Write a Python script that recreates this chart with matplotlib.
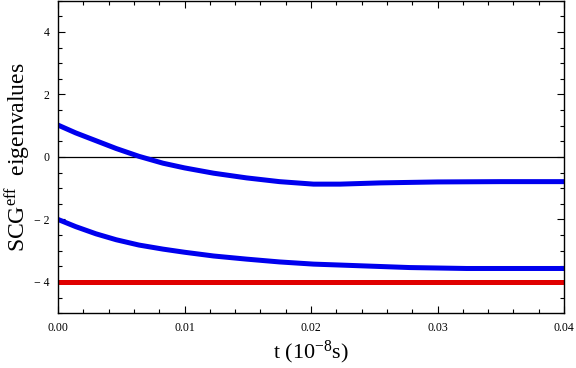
import numpy as np
import matplotlib.pyplot as plt
from matplotlib.ticker import MultipleLocator, FuncFormatter

plt.rcParams['font.family'] = ['Liberation Serif', 'DejaVu Serif']
plt.rcParams['mathtext.fontset'] = 'custom'
plt.rcParams['mathtext.rm'] = 'Liberation Serif'
plt.rcParams['mathtext.it'] = 'Liberation Serif:italic'

# upper eigenvalue branch
t_up = [0.0, 0.0014, 0.0030, 0.0046, 0.0064, 0.0083, 0.0100, 0.0123, 0.0149,
        0.0175, 0.0202, 0.0223, 0.0255, 0.0300, 0.0350, 0.0400]
ev_up = [1.02, 0.77, 0.52, 0.27, 0.02, -0.20, -0.35, -0.52, -0.67,
         -0.79, -0.87, -0.87, -0.83, -0.80, -0.79, -0.79]

# lower eigenvalue branch
t_lo = [0.0, 0.0014, 0.0030, 0.0046, 0.0064, 0.0083, 0.0100, 0.0123, 0.0149,
        0.0175, 0.0202, 0.0223, 0.0278, 0.0323, 0.0360, 0.0400]
ev_lo = [-2.0, -2.23, -2.46, -2.65, -2.82, -2.95, -3.05, -3.17, -3.27,
         -3.36, -3.43, -3.46, -3.54, -3.57, -3.57, -3.57]

# constant eigenvalue
t_const = [0.0, 0.04]
ev_const = [-4.0, -4.0]

fig = plt.figure(figsize=(5.76, 3.68), dpi=100)
ax = fig.add_axes([0.1007, 0.149, 0.8785, 0.849])

ax.axhline(0, color='black', lw=0.9)
ax.plot(t_up, ev_up, color='#0000ee', lw=3.6, solid_capstyle='butt')
ax.plot(t_lo, ev_lo, color='#0000ee', lw=3.6, solid_capstyle='butt')
ax.plot(t_const, ev_const, color='#e00000', lw=3.6, solid_capstyle='butt')

ax.set_xlim(0, 0.04)
ax.set_ylim(-5, 5)

ax.xaxis.set_major_locator(MultipleLocator(0.01))
ax.xaxis.set_minor_locator(MultipleLocator(0.002))
ax.yaxis.set_major_locator(MultipleLocator(2))
ax.yaxis.set_minor_locator(MultipleLocator(0.5))
ax.xaxis.set_major_formatter(FuncFormatter(lambda v, p: '%.2f' % v))
ax.yaxis.set_major_formatter(FuncFormatter(
    lambda v, p: ('\u2212 %d' % abs(round(v))) if v < -0.01 else '%d' % round(v)))

ax.tick_params(which='both', direction='in', top=True, right=True,
               labelsize=8.5, colors='black', width=0.8)
ax.tick_params(which='major', length=5, pad=6)
ax.tick_params(which='minor', length=3)
for s in ax.spines.values():
    s.set_linewidth(1.0)

ax.set_xlabel('t (10$^{-8}$s)', fontsize=16, labelpad=4)
ax.set_ylabel('SCG$^{\\mathrm{eff}}$  eigenvalues', fontsize=17, labelpad=1)

fig.savefig('out.png', dpi=100)
